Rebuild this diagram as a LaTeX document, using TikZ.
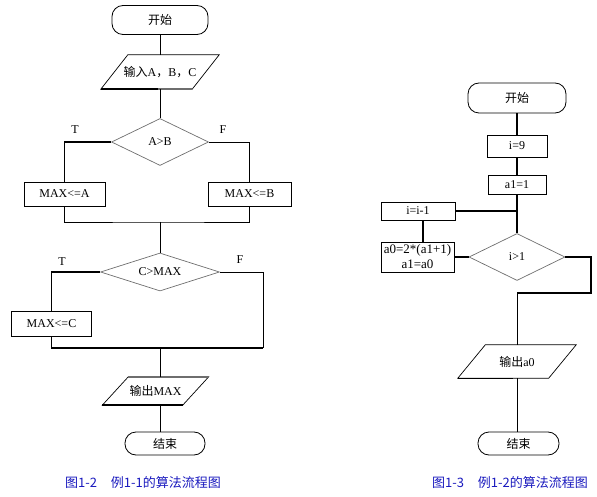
\documentclass[tikz,border=0pt]{standalone}
\usepackage{fontspec}
\setmainfont{Liberation Serif}
\newfontfamily\cjk{Noto Sans CJK SC}
\usetikzlibrary{shapes.geometric}
\definecolor{capblue}{RGB}{25,25,190}
\definecolor{diagray}{RGB}{110,110,110}
\begin{document}
\begin{tikzpicture}[x=1pt,y=-1pt,
  txt/.style={font=\fontsize{12}{14}\selectfont, inner sep=0pt},
  term/.style={txt, draw, rectangle, rounded corners=11pt, line width=0.8pt},
  box/.style={txt, draw, rectangle, line width=0.8pt},
  dia/.style={txt, draw=diagray, diamond, line width=0.7pt, aspect=2},
  io/.style={txt, rectangle, draw=none},
  con/.style={line width=0.8pt},
  thk/.style={line width=1.6pt},
  iol/.style={line width=0.7pt},
  captxt/.style={font=\fontsize{13}{15}\selectfont\cjk, text=capblue, inner sep=0pt}]
\useasboundingbox (0,0) rectangle (597,497);

% ---------------- left chart ----------------
\node[term, minimum width=96pt, minimum height=29pt] (s1) at (160,20) {\cjk 开始};
\node[io, minimum width=91pt, minimum height=34pt] (in1) at (160,72) {{\cjk 输入}A{\cjk ，}B{\cjk ，}C};
\draw[iol] ([xshift=13.5pt]in1.north west) -- ([xshift=13.5pt]in1.north east)
  -- ([xshift=-13.5pt]in1.south east) -- ([xshift=-13.5pt]in1.south west) -- cycle;
\draw[line width=1.6pt] ([xshift=-13.5pt]in1.south west) -- ([xshift=-2pt]in1.south);
\draw[line width=1.4pt, diagray] ([xshift=-2pt]in1.south) -- ([xshift=-13.5pt]in1.south east);
\node[dia, minimum width=97pt, minimum height=47pt] (d1) at (160,142) {A>B};
\node[box, minimum width=81pt, minimum height=24pt] (bA) at (64.5,194) {MAX<=A};
\node[box, minimum width=83pt, minimum height=24pt] (bB) at (249.5,194) {MAX<=B};
\node[txt] (t1) at (75,130) {T};
\node[txt] (f1) at (223,130) {F};
\coordinate (m1) at (160,222);
\node[dia, minimum width=119pt, minimum height=38pt] (d2) at (160,272) {C>MAX};
\node[txt] (t2) at (62,262) {T};
\node[txt] (f2) at (240,260) {F};
\node[box, minimum width=80pt, minimum height=25pt] (bC) at (51.5,323.5) {MAX<=C};
\coordinate (r2) at (263,348);
\coordinate (m2) at (160,348);
\node[io, minimum width=80pt, minimum height=28pt] (out1) at (155.5,391) {{\cjk 输出}MAX};
\draw[iol] ([xshift=13pt]out1.north west) -- ([xshift=13pt]out1.north east)
  -- ([xshift=-13pt]out1.south east) -- ([xshift=-13pt]out1.south west) -- cycle;
\draw[line width=1.4pt, diagray] ([xshift=13pt]out1.north west) -- ([xshift=13pt]out1.north east);
\draw[line width=1.5pt] ([xshift=-13pt]out1.south west) -- ([xshift=-13pt]out1.south east);
\node[term, minimum width=80pt, minimum height=23pt] (e1) at (165,443.5) {\cjk 结束};
\node[captxt] (c1) at (143,483) {图1-2\hspace{14pt}例1-1的算法流程图};

\draw[con] (s1) -- (in1);
\draw[con] (in1) -- (d1);
\draw[thk] (d1.west) -| (bA.north);
\draw[con] (d1.east) -| (bB.north);
\draw[con] (bA.south) |- (m1) -| (bB.south);
\draw[con] (m1) -- (d2.north);
\draw[thk] (d2.west) -| (bC.north);
\draw[con] (d2.east) -| (r2);
\draw[thk] (bC.south) |- (r2);
\draw[con] (m2) -- (out1.north -| m2);
\draw[con] (out1.south -| m2) -- (e1.north -| m2);

% ---------------- right chart ----------------
\node[term, minimum width=98pt, minimum height=30pt] (s2) at (517,98) {\cjk 开始};
\node[box, minimum width=60pt, minimum height=22pt] (b1) at (517,146) {i=9};
\node[box, minimum width=58pt, minimum height=19pt] (b2) at (517,184.5) {a1=1};
\node[box, minimum width=74pt, minimum height=18pt] (b3) at (418,211) {i=i-1};
\node[box, minimum width=73pt, minimum height=30pt, align=center,
  font=\fontsize{13}{14}\selectfont] (b4) at (417.5,257)
  {a0=2*(a1+1)\\[1pt]a1=a0};
\node[dia, minimum width=96pt, minimum height=47pt] (d3) at (517,257) {i>1};
\coordinate (j) at (517,211);
\coordinate (k1) at (591,293);
\coordinate (k2) at (517,293);
\node[io, minimum width=90.5pt, minimum height=33pt] (out2) at (517,361.5) {{\cjk 输出}a0};
\draw[iol] ([xshift=13.75pt]out2.north west) -- ([xshift=13.75pt]out2.north east)
  -- ([xshift=-13.75pt]out2.south east) -- ([xshift=-13.75pt]out2.south west) -- cycle;
\draw[line width=1.4pt] ([xshift=-13.75pt]out2.south west) -- ([xshift=-4pt]out2.south);
\node[term, minimum width=81pt, minimum height=23pt] (e2) at (518.5,443.5) {\cjk 结束};
\node[captxt] (c2) at (510,483) {图1-3\hspace{14pt}例1-2的算法流程图};

\draw[thk] (s2) -- (b1);
\draw[thk] (b1) -- (b2);
\draw[thk] (b2) -- (d3);
\draw[thk] (b3.east) -- (j);
\draw[thk] ([xshift=5pt]b3.south) -- ([xshift=5pt]b3.south |- b4.north);
\draw[thk] (b4.east) -- (d3.west);
\draw[thk] (d3.east) -| (k1) -- (k2);
\draw[con] (k2) -- (out2.north -| k2);
\draw[con] (out2.south -| k2) -- (e2.north -| k2);
\end{tikzpicture}
\end{document}
